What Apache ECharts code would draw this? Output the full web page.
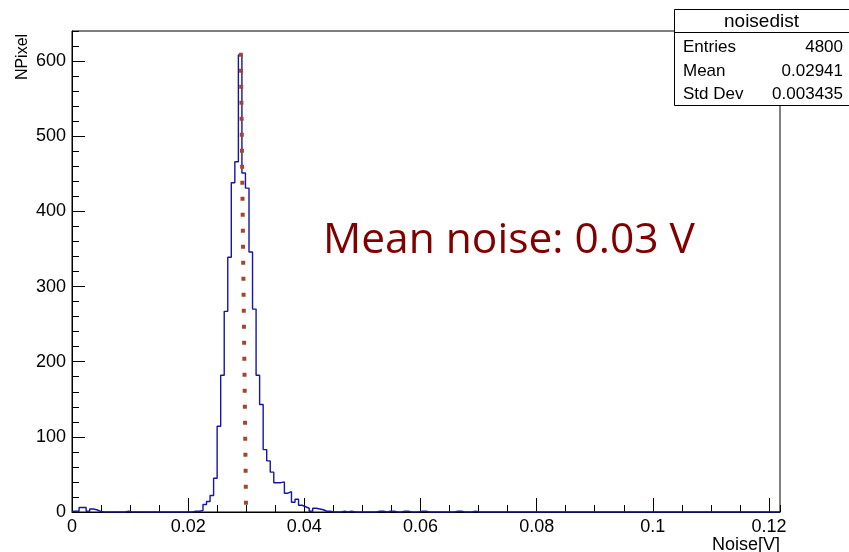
<!DOCTYPE html>
<html>
<head>
<meta charset="UTF-8">
<title>noisedist</title>
<script src="https://cdn.jsdelivr.net/npm/echarts@6/dist/echarts.min.js"></script>
<style>
  html, body { margin: 0; padding: 0; background: #fff; }
</style>
</head>
<body>
<div id="main" style="width: 849px;height:552px;"></div>
<script type="text/javascript">
	// histogram: 200 bins from 0 to xMax
	var xMax = 0.1219;
	var counts = [
		1, 1, 6, 6, 1, 4, 3, 1, 0, 0, 0, 0, 0, 0, 0, 1, 0, 0, 0, 0,
		0, 0, 0, 0, 0, 0, 0, 0, 0, 0, 0, 0, 0, 0, 1, 1, 2, 10, 14, 22,
		45, 114, 182, 267, 339, 438, 466, 608, 451, 431, 346, 270, 182, 143, 83, 68, 53, 39, 39, 40,
		25, 27, 13, 17, 9, 7, 5, 1, 5, 4, 3, 1, 1, 0, 0, 0, 1, 0, 1, 0,
		0, 0, 0, 0, 0, 0, 1, 1, 0, 1, 1, 0, 0, 1, 1, 0, 0, 0, 1, 1,
		0, 0, 0, 0, 0, 0, 0, 0, 1, 1, 0, 0, 0, 1, 0, 0, 0, 0, 0, 0,
		0, 0, 0, 0, 0, 0, 0, 0, 0, 0, 0, 0, 0, 0, 0, 0, 0, 0, 0, 0,
		0, 0, 0, 0, 0, 0, 0, 0, 0, 0, 0, 0, 0, 0, 0, 0, 0, 0, 0, 0,
		0, 0, 0, 0, 0, 0, 0, 0, 0, 0, 0, 0, 0, 0, 0, 0, 0, 0, 0, 0,
		0, 0, 0, 0, 0, 0, 0, 0, 0, 0, 0, 0, 0, 0, 0, 0, 0, 0, 0, 0
	];
	// dotted mean marker (hand drawn, slightly slanted)
	var meanLineX = [0.02907, 0.02998];
	var meanLineY = [611, -6];
	// stats box
	var statNames = ['Entries', 'Mean', 'Std Dev'];
	var statValues = ['4800', '0.02941', '0.003435'];

	var binWidth = xMax / counts.length;
	var histData = [];
	for (var i = 0; i < counts.length; i++) {
		histData.push([i * binWidth, counts[i]]);
	}
	histData.push([counts.length * binWidth, counts[counts.length - 1]]);
	var meanData = [[meanLineX[0], meanLineY[0]], [meanLineX[1], meanLineY[1]]];

	var font = 'Liberation Sans';
	var black = '#000';

	var graphics = [{
		type: 'rect', z: 10,
		shape: { x: 674.5, y: 9.5, width: 190, height: 96 },
		style: { fill: '#fff', stroke: black, lineWidth: 1 }
	}, {
		type: 'line', z: 10,
		shape: { x1: 674.5, y1: 32.5, x2: 860, y2: 32.5 },
		style: { stroke: black, lineWidth: 1 }
	}, {
		type: 'text', z: 11, x: 761.5, y: 22,
		style: { text: 'noisedist', font: '19px ' + font, fill: black, align: 'center', verticalAlign: 'middle' }
	}, {
		type: 'text', x: 323, y: 241,
		style: { text: 'Mean noise: 0.03 V', font: '42.5px "Open Sans"', fill: '#800000', verticalAlign: 'middle' }
	}, {
		type: 'text', rotation: Math.PI / 2, x: 23, y: 57,
		style: { text: 'NPixel', font: '16px ' + font, fill: black, align: 'center', verticalAlign: 'middle' }
	}, {
		type: 'text', x: 780, y: 545,
		style: { text: 'Noise[V]', font: '18px ' + font, fill: black, align: 'right', verticalAlign: 'middle' }
	}];
	for (var j = 0; j < statNames.length; j++) {
		graphics.push({
			type: 'text', z: 11, x: 683, y: 47.5 + j * 23.5,
			style: { text: statNames[j], font: '17px ' + font, fill: black, verticalAlign: 'middle' }
		});
		graphics.push({
			type: 'text', z: 11, x: 843, y: 47.5 + j * 23.5,
			style: { text: statValues[j], font: '17px ' + font, fill: black, align: 'right', verticalAlign: 'middle' }
		});
	}

	var myChart = echarts.init(document.getElementById('main'));
	var option = {
		animation: false,
		grid: {
			left: 72, top: 31, right: 69, bottom: 40,
			show: true, borderColor: black, borderWidth: 1
		},
		xAxis: [{
			type: 'value', min: 0, max: xMax, interval: 0.02, position: 'bottom',
			axisLine: { onZero: false, lineStyle: { color: black, width: 1 } },
			axisTick: { inside: true, length: 14, lineStyle: { color: black } },
			axisLabel: { showMaxLabel: false, color: black, fontFamily: font, fontSize: 18, margin: 6 },
			splitLine: { show: false }
		}, {
			type: 'value', min: 0, max: xMax, interval: 0.005, position: 'bottom',
			axisLine: { show: false },
			axisTick: { inside: true, length: 7, lineStyle: { color: black } },
			axisLabel: { show: false },
			splitLine: { show: false }
		}],
		yAxis: [{
			type: 'value', min: 0, max: 640, interval: 100,
			axisLine: { show: true, onZero: false, lineStyle: { color: black, width: 1 } },
			axisTick: { show: true, inside: true, length: 13, lineStyle: { color: black } },
			axisLabel: { showMaxLabel: false, color: black, fontFamily: font, fontSize: 18, margin: 6 },
			splitLine: { show: false }
		}, {
			type: 'value', min: 0, max: 640, interval: 20, position: 'left',
			axisLine: { show: false },
			axisTick: { show: true, inside: true, length: 7, lineStyle: { color: black } },
			axisLabel: { show: false },
			splitLine: { show: false }
		}],
		series: [{
			name: 'noisedist',
			type: 'line',
			step: 'end',
			data: histData,
			symbol: 'none',
			lineStyle: { color: '#1414a8', width: 1.4 }
		}, {
			name: 'mean',
			type: 'line',
			data: meanData,
			symbol: 'none',
			clip: false,
			lineStyle: { color: '#a3472c', width: 4, type: [4, 12], cap: 'butt' }
		}],
		graphic: graphics
	};
	myChart.setOption(option);
</script>
</body>
</html>
